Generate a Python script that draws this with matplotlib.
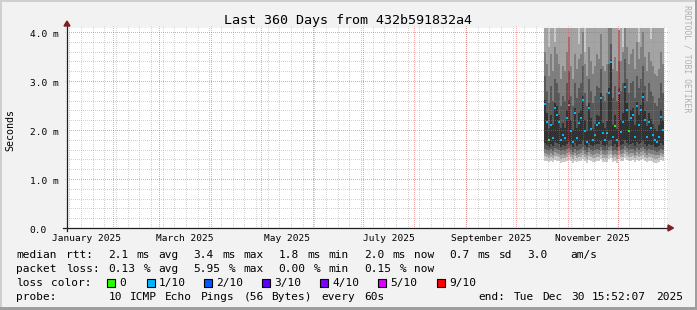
import re
from datetime import datetime, timedelta
import numpy as np
import pandas as pd
import matplotlib
matplotlib.use("Agg")
import matplotlib.pyplot as plt
import matplotlib.dates as mdates
import matplotlib.transforms as mtrans
from matplotlib.patches import Rectangle, Polygon

# ---------------- data ----------------
title = "Last 360 Days from 432b591832a4"
graph_end = datetime(2025, 12, 30, 15, 52, 7)
graph_days = 360
series_start = "2025-10-18 01:28:07"
series_step_minutes = 1728

median_ms = [2.54, 2.17, 1.80, 2.10, 1.83, 2.45, 2.31, 2.17, 1.80, 1.90,
             1.84, 2.25, 2.51, 1.97, 1.76, 2.34, 1.83, 2.14, 2.24, 2.61,
             1.97, 1.76, 2.44, 2.03, 1.80, 1.90, 2.10, 2.14, 2.66, 1.93,
             1.80, 1.93, 2.75, 3.39, 1.86, 2.09, 1.80, 2.75, 1.96, 2.17,
             2.88, 2.41, 1.97, 2.24, 2.31, 1.86, 2.48, 2.10, 2.41, 2.68,
             2.20, 1.86, 2.17, 2.04, 1.90, 1.80, 1.76, 1.86, 2.27, 2.00]
lost_pings = [1, 1, 0, 1, 1, 1, 1, 1, 1, 1,
              1, 1, 1, 1, 1, 1, 1, 1, 1, 1,
              1, 1, 1, 1, 1, 1, 1, 1, 1, 1,
              1, 1, 1, 1, 1, 0, 1, 1, 1, 1,
              1, 1, 0, 1, 1, 1, 1, 1, 1, 1,
              1, 1, 1, 1, 1, 1, 1, 1, 1, 1]

ping1 = [1.37, 1.36, 1.34, 1.37, 1.35, 1.38, 1.37, 1.36, 1.33, 1.35,
         1.34, 1.37, 1.39, 1.36, 1.33, 1.37, 1.34, 1.36, 1.37, 1.40,
         1.36, 1.33, 1.38, 1.36, 1.34, 1.35, 1.37, 1.36, 1.40, 1.35,
         1.34, 1.35, 1.41, 1.43, 1.34, 1.36, 1.33, 1.41, 1.36, 1.37,
         1.42, 1.38, 1.36, 1.37, 1.38, 1.34, 1.38, 1.36, 1.38, 1.40,
         1.37, 1.34, 1.37, 1.36, 1.35, 1.33, 1.32, 1.34, 1.38, 1.36]
ping2 = [1.46, 1.44, 1.42, 1.45, 1.43, 1.47, 1.46, 1.44, 1.41, 1.43,
         1.42, 1.45, 1.48, 1.44, 1.41, 1.46, 1.42, 1.44, 1.45, 1.49,
         1.44, 1.40, 1.47, 1.44, 1.42, 1.43, 1.45, 1.44, 1.49, 1.43,
         1.42, 1.43, 1.50, 1.52, 1.42, 1.44, 1.41, 1.50, 1.44, 1.45,
         1.51, 1.47, 1.44, 1.45, 1.46, 1.42, 1.47, 1.44, 1.47, 1.49,
         1.45, 1.42, 1.45, 1.44, 1.43, 1.41, 1.40, 1.42, 1.46, 1.44]
ping3 = [1.54, 1.52, 1.49, 1.53, 1.50, 1.55, 1.54, 1.52, 1.49, 1.51,
         1.50, 1.53, 1.56, 1.52, 1.48, 1.54, 1.50, 1.52, 1.53, 1.57,
         1.52, 1.48, 1.55, 1.52, 1.50, 1.51, 1.53, 1.52, 1.57, 1.51,
         1.50, 1.51, 1.58, 1.60, 1.50, 1.52, 1.49, 1.58, 1.52, 1.53,
         1.59, 1.55, 1.52, 1.53, 1.54, 1.50, 1.55, 1.52, 1.55, 1.57,
         1.53, 1.50, 1.53, 1.52, 1.51, 1.49, 1.48, 1.50, 1.54, 1.52]
ping4 = [1.62, 1.60, 1.57, 1.61, 1.58, 1.63, 1.62, 1.60, 1.57, 1.59,
         1.58, 1.61, 1.64, 1.60, 1.56, 1.62, 1.58, 1.60, 1.61, 1.65,
         1.60, 1.56, 1.63, 1.60, 1.58, 1.59, 1.61, 1.60, 1.65, 1.59,
         1.58, 1.59, 1.66, 1.68, 1.58, 1.60, 1.57, 1.66, 1.60, 1.61,
         1.67, 1.63, 1.60, 1.61, 1.62, 1.58, 1.63, 1.60, 1.63, 1.65,
         1.61, 1.58, 1.61, 1.60, 1.59, 1.57, 1.56, 1.58, 1.62, 1.60]
ping5 = [1.74, 1.70, 1.66, 1.72, 1.68, 1.75, 1.73, 1.71, 1.66, 1.69,
         1.67, 1.72, 1.76, 1.70, 1.65, 1.73, 1.68, 1.71, 1.72, 1.77,
         1.70, 1.65, 1.74, 1.70, 1.67, 1.69, 1.72, 1.71, 1.77, 1.69,
         1.67, 1.69, 1.78, 1.80, 1.68, 1.71, 1.66, 1.78, 1.70, 1.72,
         1.79, 1.74, 1.70, 1.72, 1.73, 1.68, 1.75, 1.71, 1.74, 1.77,
         1.72, 1.68, 1.72, 1.70, 1.69, 1.66, 1.65, 1.68, 1.73, 1.70]
ping6 = [2.62, 2.35, 2.05, 2.30, 2.10, 2.55, 2.50, 2.30, 2.05, 2.15,
         2.05, 2.40, 2.62, 2.20, 2.00, 2.45, 2.05, 2.35, 2.40, 2.70,
         2.20, 1.98, 2.55, 2.25, 2.02, 2.12, 2.30, 2.28, 2.75, 2.15,
         2.05, 2.18, 2.85, 3.42, 2.10, 2.30, 2.02, 2.85, 2.20, 2.35,
         2.95, 2.55, 2.18, 2.40, 2.45, 2.10, 2.58, 2.30, 2.52, 2.75,
         2.38, 2.08, 2.35, 2.22, 2.12, 2.02, 1.98, 2.10, 2.40, 2.20]
ping7 = [3.10, 2.80, 2.55, 2.90, 2.60, 3.05, 2.95, 2.75, 2.50, 2.70,
         2.60, 2.95, 3.20, 2.70, 2.50, 2.95, 2.65, 2.85, 2.95, 3.30,
         2.75, 2.50, 3.05, 2.80, 2.55, 2.70, 2.90, 2.85, 3.25, 2.70,
         2.60, 2.75, 3.35, 3.75, 2.65, 2.90, 2.60, 3.40, 2.80, 2.95,
         3.45, 3.05, 2.75, 2.95, 3.00, 2.65, 3.10, 2.85, 3.05, 3.30,
         2.90, 2.60, 2.95, 2.80, 2.70, 2.55, 2.50, 2.65, 2.95, 2.75]
ping8 = [3.60, 3.35, 3.10, 3.55, 3.20, 3.70, 3.55, 3.35, 3.05, 3.30,
         3.20, 3.60, 3.90, 3.30, 3.05, 3.55, 3.25, 3.45, 3.55, 4.00,
         3.35, 3.10, 3.70, 3.40, 3.15, 3.30, 3.55, 3.45, 3.95, 3.30,
         3.20, 3.35, 4.10, 4.30, 3.25, 3.50, 3.20, 4.05, 3.40, 3.60,
         4.20, 3.70, 3.35, 3.55, 3.65, 3.25, 3.80, 3.45, 3.70, 4.00,
         3.50, 3.20, 3.60, 3.40, 3.30, 3.15, 3.10, 3.25, 3.60, 3.35]
ping9 = [4.60, 4.50, 3.70, 4.60, 4.40, 3.80, 4.70, 4.50, 4.40, 4.60,
         4.50, 4.70, 4.80, 4.40, 4.30, 4.60, 4.50, 3.75, 4.60, 4.90,
         3.60, 4.40, 4.70, 4.50, 4.40, 4.50, 4.60, 4.50, 4.90, 4.40,
         4.30, 4.50, 5.00, 5.20, 4.40, 4.60, 4.30, 3.90, 4.50, 3.70,
         5.10, 4.70, 4.40, 4.60, 4.70, 4.30, 4.80, 3.80, 4.70, 5.00,
         4.60, 4.30, 4.60, 3.85, 4.40, 4.30, 4.30, 4.40, 4.60, 4.50]
ping10 = [5.9, 5.6, 5.3, 6.0, 5.5, 5.2, 6.1, 5.7, 5.4, 5.8,
          5.6, 6.0, 6.3, 5.5, 5.2, 5.9, 5.4, 5.1, 5.8, 6.4,
          5.0, 5.3, 6.0, 5.7, 5.4, 5.6, 5.9, 5.7, 6.4, 5.5,
          5.3, 5.6, 6.6, 7.0, 5.4, 5.8, 5.3, 5.0, 5.6, 5.0,
          6.7, 6.0, 5.5, 5.8, 6.0, 5.4, 6.2, 5.1, 6.0, 6.5,
          5.8, 5.3, 5.9, 5.2, 5.5, 5.3, 5.2, 5.4, 5.9, 5.6]

y_tick_values = [0, 1, 2, 3, 4]
y_tick_labels = ["0.0", "1.0 m", "2.0 m", "3.0 m", "4.0 m"]
x_label_months = ["2025-01-01", "2025-03-01", "2025-05-01", "2025-07-01", "2025-09-01", "2025-11-01"]
x_label_texts = ["January 2025", "March 2025", "May 2025", "July 2025", "September 2025", "November 2025"]
y_axis_title = "Seconds"

loss_names = ["0", "1/10", "2/10", "3/10", "4/10", "5/10", "9/10"]
loss_limits = [0, 1, 2, 3, 4, 5, 10]
loss_colors = ["#26ff00", "#00b8ff", "#0059ff", "#5e00ff", "#7e00ff", "#dd00ff", "#ff0000"]

legend_row1 = "median rtt:  2.1 ms avg  3.4 ms max  1.8 ms min  2.0 ms now  0.7 ms sd  3.0   am/s"
legend_row2 = "packet loss: 0.13 % avg  5.95 % max  0.00 % min  0.15 % now"
legend_row3 = "loss color:"
legend_row4 = "probe:       10 ICMP Echo Pings (56 Bytes) every 60s"
end_text = "end: Tue Dec 30 15:52:07 2025"
watermark = "RRDTOOL / TOBI OETIKER"

# ---------------- figure ----------------
W, H = 697, 310
MONO = "DejaVu Sans Mono"
plt.rcParams["font.family"] = [MONO, "DejaVu Sans"]

fig = plt.figure(figsize=(W / 100, H / 100), dpi=100, facecolor="#f2f2f2")

# 3D frame
fig.patches.append(Rectangle((0, 1 - 2 / H), 1, 2 / H, transform=fig.transFigure, color="#cfcfcf", lw=0))
fig.patches.append(Rectangle((0, 0), 2 / W, 1, transform=fig.transFigure, color="#cfcfcf", lw=0))
fig.patches.append(Rectangle((0, 0), 1, 3 / H, transform=fig.transFigure, color="#9e9e9e", lw=0))
fig.patches.append(Rectangle((1 - 2 / W, 0), 2 / W, 1, transform=fig.transFigure, color="#9e9e9e", lw=0))

ax = fig.add_axes([67 / W, (H - 228) / H, 600 / W, 200 / H])
ax.set_facecolor("white")
for s in ax.spines.values():
    s.set_visible(False)
ax.set_xticks([])
ax.set_yticks([])

t0 = mdates.date2num(graph_end - timedelta(days=graph_days))
t1 = mdates.date2num(graph_end)
ax.set_xlim(t0, t1)
ax.set_ylim(0, 200 / 49)
px_y = (200 / 49) / 200  # ms per pixel

# ---------------- smoke ----------------
edges = mdates.date2num(pd.date_range(series_start, periods=len(median_ms) + 1,
                                      freq=f"{series_step_minutes}min").to_pydatetime())
pings = [ping1, ping2, ping3, ping4, ping5, ping6, ping7, ping8, ping9, ping10]
half = len(pings) // 2
for ibot in range(1, half + 1):
    itop = len(pings) + 1 - ibot
    shade = int(190 / half * (half - ibot)) + 50
    col = "#" + ("%02x" % shade) * 3
    ax.stairs(pings[itop - 1], edges, baseline=pings[ibot - 1], fill=True,
              color=col, lw=0, antialiased=False, zorder=1)

# median marks coloured by loss
med = np.array(median_ms)
cols = []
for lp in lost_pings:
    k = next(i for i, lim in enumerate(loss_limits) if lp <= lim)
    cols.append(loss_colors[k])
ax.bar(edges[:-1], 2 * px_y, bottom=med - px_y, width=np.diff(edges), align="edge",
       color=cols, lw=0, antialiased=False, zorder=2)

# ---------------- grid ----------------
dots = (0.5, (1, 1))
minor_c = (0.56, 0.56, 0.56, 0.4)
major_c = (0.87, 0.31, 0.31, 0.5)
ext_x = 2 / 600
ext_y = 2 / 200
gkw = dict(lw=0.72, ls=dots, clip_on=False, zorder=3, snap=True)
for v in np.arange(0.2, 4.01, 0.2):
    if abs(v - round(v)) < 1e-6:
        continue
    ax.axhline(v, xmin=-ext_x, xmax=1 + ext_x, color=minor_c, **gkw)
for d in pd.date_range("2025-01-06", "2025-12-29", freq="7D"):
    ax.axvline(mdates.date2num(d), ymin=0, ymax=1 + ext_y, color=minor_c, **gkw)
for v in y_tick_values[1:]:
    ax.axhline(v, xmin=-ext_x, xmax=1 + ext_x, color=major_c, **gkw)
for d in pd.date_range("2025-02-01", "2025-12-01", freq="MS"):
    ax.axvline(mdates.date2num(d), ymin=0, ymax=1 + ext_y, color=major_c, **gkw)

# ---------------- axes + arrows ----------------
axis_c = "#1f1f1f"
arrow_c = "#801f1f"
ax.axhline(0, xmin=-4 / 600, xmax=1 + 1 / 600, color=axis_c, lw=0.9, clip_on=False, zorder=4)
ax.axvline(t0, ymin=-3 / 200, ymax=1 + 3 / 200, color=axis_c, lw=0.9, clip_on=False, zorder=4)
ax.add_patch(Polygon([(0, 1 + 7 / 200), (-3 / 600, 1 + 2 / 200), (3 / 600, 1 + 2 / 200)],
                     closed=True, transform=ax.transAxes, color=arrow_c, clip_on=False, zorder=5))
ax.add_patch(Polygon([(1 + 6.5 / 600, 0), (1 + 1 / 600, 3 / 200), (1 + 1 / 600, -3 / 200)],
                     closed=True, transform=ax.transAxes, color=arrow_c, clip_on=False, zorder=5))

# ---------------- tick labels ----------------
ytrans = mtrans.offset_copy(mtrans.blended_transform_factory(ax.transAxes, ax.transData),
                            fig=fig, y=-5, units="dots")
for v, lab in zip(y_tick_values, y_tick_labels):
    ax.text((29.5 - 67) / 600, v, lab, transform=ytrans, ha="left", va="baseline",
            fontsize=6.8, family=MONO, color="#000000")

xtrans = mtrans.offset_copy(mtrans.blended_transform_factory(ax.transData, ax.transAxes),
                            fig=fig, y=-12.7, units="dots")
for m, lab in zip(x_label_months, x_label_texts):
    a = pd.Timestamp(m)
    b = a + pd.offsets.MonthBegin(1)
    mid = mdates.date2num(a.to_pydatetime()) + (mdates.date2num(b.to_pydatetime()) - mdates.date2num(a.to_pydatetime())) / 2
    ax.text(mid, 0, lab, transform=xtrans, ha="center", va="baseline", fontsize=6.8, family=MONO)

fig.text(10.8 / W, 1 - 130.5 / H, y_axis_title, rotation=90, ha="center", va="center",
         fontsize=7.2, family=MONO)

# ---------------- title & watermark ----------------
fig.text(348.5 / W, 1 - 24 / H, title, ha="center", va="baseline", fontsize=9.6, family=MONO)
fig.text(687 / W, 1 - 5 / H, watermark, rotation=270, ha="center", va="top",
         fontsize=5.9, family=MONO, color="#b0b0b0")

# ---------------- legend ----------------
ADV = 7.1
X0 = 16


def place_row(s, x0, base):
    for mt in re.finditer(r"\S+", s):
        fig.text((x0 + mt.start() * ADV) / W, 1 - base / H, mt.group(), ha="left",
                 va="baseline", fontsize=8, family=MONO)


place_row(legend_row1, X0, 257.7)
place_row(legend_row2, X0, 271.7)
place_row(legend_row3, X0, 285.7)
place_row(legend_row4, X0, 299.8)
place_row(end_text, 478.5, 299.8)

cell_x = [119.5, 159, 216.5, 274, 332, 390.5, 449]
for cx, name, c in zip(cell_x, loss_names, loss_colors):
    fig.patches.append(Rectangle(((cx - 12.5) / W, 1 - 286.5 / H), 8 / W, 8 / H,
                                 transform=fig.transFigure, facecolor=c, edgecolor="black", lw=0.8))
    fig.text(cx / W, 1 - 285.7 / H, name, ha="left", va="baseline", fontsize=8, family=MONO)

fig.savefig("out.png", dpi=100, facecolor=fig.get_facecolor())
